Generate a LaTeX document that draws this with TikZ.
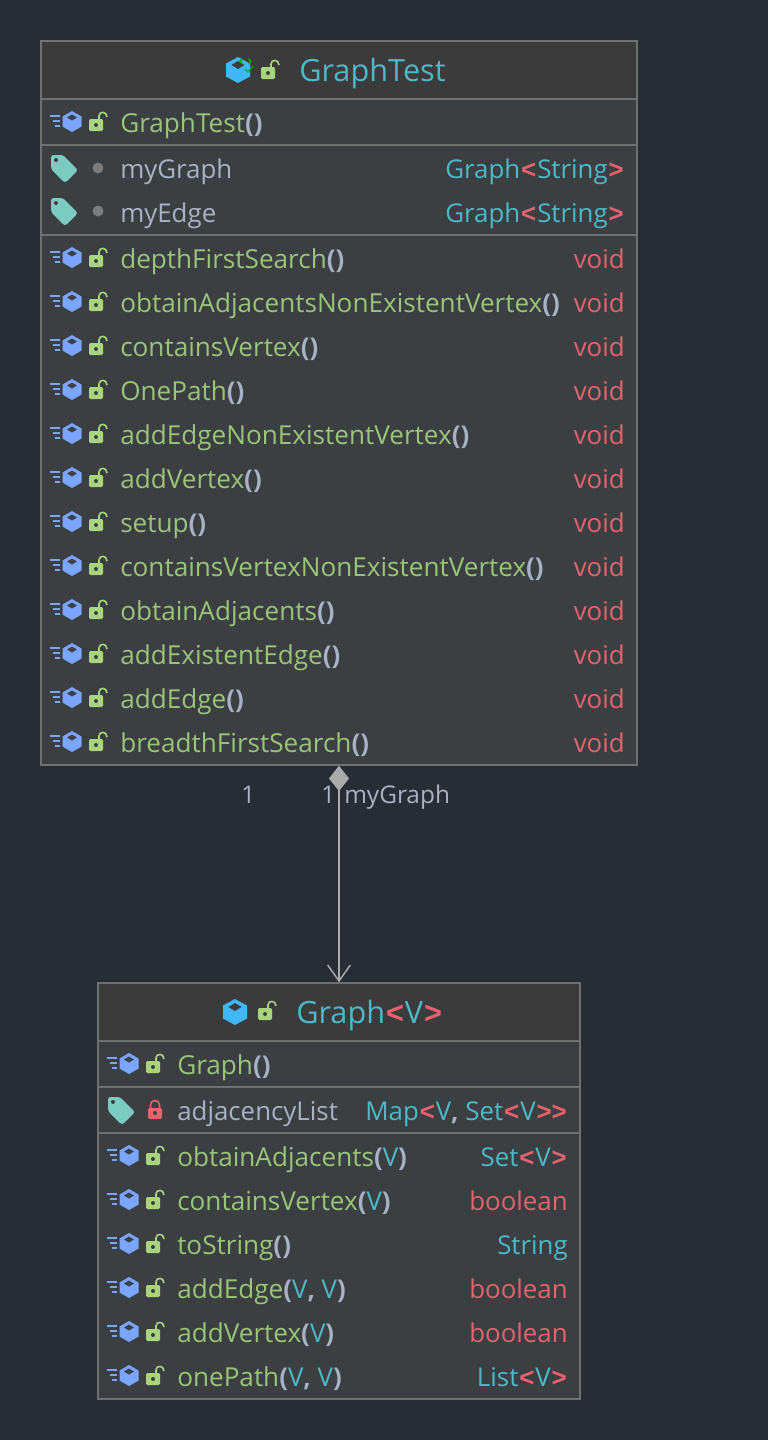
\documentclass[tikz,border=0pt]{standalone}
\usepackage{fontspec}
\setmainfont{Open Sans}
\newfontfamily\anglefont{Liberation Sans}
\usetikzlibrary{arrows.meta}
\definecolor{canvas}{HTML}{282C34}
\definecolor{headfill}{HTML}{3B3B3B}
\definecolor{bodyfill}{HTML}{3B3F42}
\definecolor{rim}{HTML}{6F7070}
\definecolor{methodgreen}{HTML}{9AC47A}
\definecolor{typeteal}{HTML}{4FB8C6}
\definecolor{keyred}{HTML}{E5626E}
\definecolor{plaingrey}{HTML}{A9B1C2}
\definecolor{hexblue}{HTML}{7AA6FF}
\definecolor{hexcyan}{HTML}{40B8F5}
\definecolor{lockgreen}{HTML}{A8D47E}
\definecolor{tagteal}{HTML}{7CCBC0}
\definecolor{dotgrey}{HTML}{7C7C7C}
\definecolor{linkgrey}{HTML}{ABABAB}
\newcommand{\mth}[1]{\textcolor{methodgreen}{\fontsize{19.6}{23}\selectfont #1}}
\newcommand{\tpe}[1]{\textcolor{typeteal}{#1}}
\newcommand{\kwd}[1]{\textcolor{keyred}{#1}}
\newcommand{\prn}[1]{\textcolor{plaingrey}{\bfseries #1}}
\newcommand{\agl}[1]{\kern0.7pt\textcolor{keyred}{\anglefont\bfseries #1}\kern0.7pt}

\begin{document}
\begin{tikzpicture}[x=0.75pt,y=-0.75pt]

\tikzset{compartment/.style = {shape=rectangle,draw=rim,line width=1.1pt,inner sep=0pt}}
\tikzset{headbox/.style = {compartment,fill=headfill,minimum height=43.5pt}}
\tikzset{rowbox/.style = {compartment,fill=bodyfill}}
\tikzset{rowtext/.style = {anchor=base west,inner sep=0pt,font=\fontsize{19.4}{23}\selectfont}}
\tikzset{fieldname/.style = {rowtext,text=plaingrey}}
\tikzset{typetext/.style = {rowtext,anchor=base east}}
\tikzset{titletext/.style = {rowtext,font=\fontsize{23}{28}\selectfont}}
\tikzset{marktext/.style = {rowtext,text=plaingrey,font=\fontsize{18.3}{22}\selectfont}}
\tikzset{link/.style = {draw=linkgrey,line width=1.2pt,
  {Diamond[fill=linkgrey,length=19pt,width=15pt]}-{Straight Barb[length=12pt,width=17pt,line width=1.1pt]}}}
\tikzset{padlock/.pic = {
  \fill[lockgreen,rounded corners=1pt] (-7,-6) rectangle (7,6);
  \fill[bodyfill] (0,0) circle (2);
  \draw[lockgreen,line width=1.2pt] (3,-6) -- (3,-9) .. controls (3,-14) and (11,-14) .. (11,-8);}}
\tikzset{hexcube/.pic = {
  \fill[hexblue] (0,-10.5) -- (9.5,-5) -- (9.5,5) -- (0,10.5) -- (-9.5,5) -- (-9.5,-5) -- cycle;
  \fill[bodyfill] (0,-7) -- (5,-4) -- (0,-1) -- (-5,-4) -- cycle;}}
\tikzset{classcube/.pic = {
  \fill[hexcyan] (0,-13) -- (12,-6.5) -- (12,6.5) -- (0,13) -- (-12,6.5) -- (-12,-6.5) -- cycle;
  \fill[headfill] (0,-9) -- (6.5,-5) -- (0,-1) -- (-6.5,-5) -- cycle;}}
\tikzset{methodicon/.pic = {
  \pic at (0,-1.5) {hexcube};
  \draw[hexblue,line width=1.2pt] (-22,-7) -- (-12,-7) (-19,-2) -- (-12,-2) (-17,3) -- (-12,3);
  \pic at (24,2) {padlock};}}
\tikzset{tagshape/.pic = {
  \fill[tagteal,rounded corners=2pt] (-14,-14) -- (-2,-14) -- (13,1) -- (0,14) -- (-14,0) -- cycle;
  \fill[bodyfill] (-9,-9) circle (2);}}
\tikzset{packagefield/.pic = {
  \pic at (0,0) {tagshape};
  \fill[dotgrey] (33,-1) circle (5.5);}}
\tikzset{privatefield/.pic = {
  \pic at (0,0) {tagshape};
  \fill[keyred,rounded corners=1pt] (26,-3) rectangle (40,8);
  \fill[bodyfill] (33,2) circle (2);
  \draw[keyred,line width=1.2pt] (28.5,-3) -- (28.5,-6) .. controls (28.5,-12) and (37.5,-12) .. (37.5,-6) -- (37.5,-3);}}

\fill[canvas] (0,0) rectangle (768,1440);
\useasboundingbox (0,0) rectangle (768,1440);

% compartments
\node[headbox,minimum width=447pt] (testhead) at (339,70) {};
\node[rowbox,minimum width=447pt,minimum height=34.5pt] (testctor) at (339,122) {};
\node[rowbox,minimum width=447pt,minimum height=67.5pt] (testfields) at (339,190) {};
\node[rowbox,minimum width=447pt,minimum height=397.5pt] (testmethods) at (339,500) {};
\node[headbox,minimum width=361.5pt] (graphhead) at (339,1012) {};
\node[rowbox,minimum width=361.5pt,minimum height=34.5pt] (graphctor) at (339,1064) {};
\node[rowbox,minimum width=361.5pt,minimum height=34.5pt] (graphfields) at (339,1110) {};
\node[rowbox,minimum width=361.5pt,minimum height=199.5pt] (graphmethods) at (339,1266) {};

% titles
\pic at (238,70) {classcube};
\draw[green!70!black,line width=1pt] (243,59) -- (240,61) -- (242,64) (248,59) -- (251,61) -- (249,64) (245,69) -- (248,72) -- (253,66);
\pic at (268,73) {padlock};
\node[titletext,text=typeteal] (testtitle) at (299,81) {GraphTest};
\pic at (235,1012) {classcube};
\pic at (265,1014) {padlock};
\node[titletext] (graphtitle) at (296,1023) {\tpe{Graph}\agl{<}\tpe{V}\agl{>}};

% GraphTest rows
\pic at (72,123) {methodicon};
\node[rowtext] (testnew) at (120,132) {\mth{GraphTest}\prn{()}};
\pic at (65,169) {packagefield};
\node[fieldname] (fieldgraph) at (120,178) {myGraph};
\node[typetext] (fieldgraphtype) at (625,178) {\tpe{Graph}\agl{<}\tpe{String}\agl{>}};
\pic at (65,212) {packagefield};
\node[fieldname] (fieldedge) at (120,222) {myEdge};
\node[typetext] (fieldedgetype) at (625,222) {\tpe{Graph}\agl{<}\tpe{String}\agl{>}};

\pic at (72,259) {methodicon};
\node[rowtext] (depthfirst) at (120,268) {\mth{depthFirstSearch}\prn{()}};
\node[typetext] (depthfirsttype) at (625,268) {\kwd{void}};
\pic at (72,303) {methodicon};
\node[rowtext] (adjacentsnone) at (120,312) {\mth{obtainAdjacentsNonExistentVertex}\prn{()}};
\node[typetext] (adjacentsnonetype) at (625,312) {\kwd{void}};
\pic at (72,347) {methodicon};
\node[rowtext] (contains) at (120,356) {\mth{containsVertex}\prn{()}};
\node[typetext] (containstype) at (625,356) {\kwd{void}};
\pic at (72,391) {methodicon};
\node[rowtext] (onepath) at (120,400) {\mth{OnePath}\prn{()}};
\node[typetext] (onepathtype) at (625,400) {\kwd{void}};
\pic at (72,435) {methodicon};
\node[rowtext] (edgenone) at (120,444) {\mth{addEdgeNonExistentVertex}\prn{()}};
\node[typetext] (edgenonetype) at (625,444) {\kwd{void}};
\pic at (72,479) {methodicon};
\node[rowtext] (addvertex) at (120,488) {\mth{addVertex}\prn{()}};
\node[typetext] (addvertextype) at (625,488) {\kwd{void}};
\pic at (72,523) {methodicon};
\node[rowtext] (setup) at (120,532) {\mth{setup}\prn{()}};
\node[typetext] (setuptype) at (625,532) {\kwd{void}};
\pic at (72,567) {methodicon};
\node[rowtext] (containsnone) at (120,576) {\mth{containsVertexNonExistentVertex}\prn{()}};
\node[typetext] (containsnonetype) at (625,576) {\kwd{void}};
\pic at (72,611) {methodicon};
\node[rowtext] (adjacents) at (120,620) {\mth{obtainAdjacents}\prn{()}};
\node[typetext] (adjacentstype) at (625,620) {\kwd{void}};
\pic at (72,655) {methodicon};
\node[rowtext] (existent) at (120,664) {\mth{addExistentEdge}\prn{()}};
\node[typetext] (existenttype) at (625,664) {\kwd{void}};
\pic at (72,699) {methodicon};
\node[rowtext] (addedge) at (120,708) {\mth{addEdge}\prn{()}};
\node[typetext] (addedgetype) at (625,708) {\kwd{void}};
\pic at (72,743) {methodicon};
\node[rowtext] (breadth) at (120,752) {\mth{breadthFirstSearch}\prn{()}};
\node[typetext] (breadthtype) at (625,752) {\kwd{void}};

% Graph rows
\pic at (129,1065) {methodicon};
\node[rowtext] (graphnew) at (177,1074) {\mth{Graph}\prn{()}};
\pic at (122,1111) {privatefield};
\node[fieldname] (adjlist) at (177,1120) {adjacencyList};
\node[typetext] (adjlisttype) at (568,1120) {\tpe{Map}\agl{<}\tpe{V}\prn{,} \tpe{Set}\agl{<}\tpe{V}\agl{>{}>}};
\pic at (129,1157) {methodicon};
\node[rowtext] (gadjacents) at (177,1166) {\mth{obtainAdjacents}\prn{(}\tpe{V}\prn{)}};
\node[typetext] (gadjacentstype) at (568,1166) {\tpe{Set}\agl{<}\tpe{V}\agl{>}};
\pic at (129,1201) {methodicon};
\node[rowtext] (gcontains) at (177,1210) {\mth{containsVertex}\prn{(}\tpe{V}\prn{)}};
\node[typetext] (gcontainstype) at (568,1210) {\kwd{boolean}};
\pic at (129,1245) {methodicon};
\node[rowtext] (gtostring) at (177,1254) {\mth{toString}\prn{()}};
\node[typetext] (gtostringtype) at (568,1254) {\tpe{String}};
\pic at (129,1289) {methodicon};
\node[rowtext] (gaddedge) at (177,1298) {\mth{addEdge}\prn{(}\tpe{V}\prn{,} \tpe{V}\prn{)}};
\node[typetext] (gaddedgetype) at (568,1298) {\kwd{boolean}};
\pic at (129,1333) {methodicon};
\node[rowtext] (gaddvertex) at (177,1342) {\mth{addVertex}\prn{(}\tpe{V}\prn{)}};
\node[typetext] (gaddvertextype) at (568,1342) {\kwd{boolean}};
\pic at (129,1377) {methodicon};
\node[rowtext] (gonepath) at (177,1386) {\mth{onePath}\prn{(}\tpe{V}\prn{,} \tpe{V}\prn{)}};
\node[typetext] (gonepathtype) at (568,1386) {\tpe{List}\agl{<}\tpe{V}\agl{>}};

% association
\draw[link] (testmethods.south) to (graphhead.north);
\node[marktext] (markleft) at (241,803) {1};
\node[marktext] (markright) at (321,803) {1};
\node[marktext] (markname) at (344,803) {myGraph};
\end{tikzpicture}
\end{document}
